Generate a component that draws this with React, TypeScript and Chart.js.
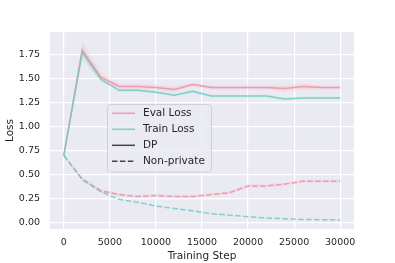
import React, { useEffect, useRef } from "react";
import { Chart, registerables } from "chart.js";

Chart.register(...registerables);

const steps = [0, 2000, 4000, 6000, 8000, 10000, 12000, 14000, 16000, 18000, 20000, 22000, 24000, 26000, 28000, 30000];
const evalDP = [0.70, 1.80, 1.52, 1.42, 1.42, 1.41, 1.39, 1.44, 1.41, 1.41, 1.41, 1.41, 1.40, 1.42, 1.41, 1.41];
const trainDP = [0.70, 1.78, 1.50, 1.38, 1.38, 1.36, 1.33, 1.37, 1.32, 1.32, 1.32, 1.32, 1.29, 1.30, 1.30, 1.30];
const evalNP = [0.70, 0.45, 0.33, 0.29, 0.27, 0.28, 0.27, 0.27, 0.29, 0.31, 0.38, 0.38, 0.40, 0.43, 0.43, 0.43];
const trainNP = [0.70, 0.45, 0.32, 0.24, 0.21, 0.17, 0.145, 0.12, 0.09, 0.075, 0.058, 0.045, 0.037, 0.03, 0.027, 0.025];
const evalDPStd = [0.01, 0.09, 0.05, 0.03, 0.03, 0.03, 0.03, 0.02, 0.02, 0.02, 0.02, 0.02, 0.03, 0.03, 0.02, 0.02];
const trainDPStd = [0.01, 0.06, 0.02, 0.015, 0.015, 0.015, 0.015, 0.015, 0.015, 0.015, 0.015, 0.015, 0.015, 0.015, 0.015, 0.015];
const evalNPStd = [0.01, 0.02, 0.02, 0.015, 0.015, 0.015, 0.015, 0.015, 0.015, 0.015, 0.015, 0.015, 0.015, 0.015, 0.015, 0.015];
const xTicks = [0, 5000, 10000, 15000, 20000, 25000, 30000];
const yTicks = [0, 0.25, 0.5, 0.75, 1.0, 1.25, 1.5, 1.75];
const legendLabels = ["Eval Loss", "Train Loss", "DP", "Non-private"];

const PINK = "rgba(244,140,162,0.85)";
const TEAL = "rgba(112,204,190,0.85)";
const PINK_FILL = "rgba(244,140,162,0.15)";
const TEAL_FILL = "rgba(112,204,190,0.12)";
const FONT = "'DejaVu Sans', sans-serif";
const TEXT = "#262626";
const DASH = [5.5, 2.4];

function pts(vals: number[], off: number[] = [], sign = 0) {
  return steps.map((s, i) => ({ x: s, y: vals[i] + sign * (off[i] || 0) }));
}

export default function App() {
  const ref = useRef<HTMLCanvasElement | null>(null);
  useEffect(() => {
    if (!ref.current) return;
    const bg = {
      id: "bg",
      beforeDraw(chart: any) {
        const { ctx, chartArea: a } = chart;
        ctx.save();
        ctx.fillStyle = "#eaeaf2";
        ctx.fillRect(a.left, a.top, a.right - a.left, a.bottom - a.top);
        ctx.restore();
      },
    };
    const legend = {
      id: "customLegend",
      afterDraw(chart: any) {
        const ctx = chart.ctx;
        ctx.save();
        ctx.beginPath();
        (ctx as any).roundRect(107.5, 104.5, 104, 67.5, 3);
        ctx.fillStyle = "rgba(234,234,242,0.8)";
        ctx.fill();
        ctx.strokeStyle = "#d0d0d8";
        ctx.lineWidth = 1;
        ctx.stroke();
        const colors = [PINK, TEAL, "#444444", "#444444"];
        const dashes = [[], [], [], DASH];
        ctx.font = `10.5px ${FONT}`;
        ctx.textBaseline = "middle";
        legendLabels.forEach((lab, i) => {
          const y = 113.3 + i * 16;
          ctx.beginPath();
          ctx.setLineDash(dashes[i]);
          ctx.strokeStyle = colors[i];
          ctx.lineWidth = 1.5;
          ctx.moveTo(112, y);
          ctx.lineTo(135, y);
          ctx.stroke();
          ctx.setLineDash([]);
          ctx.fillStyle = TEXT;
          ctx.fillText(lab, 143, y);
        });
        ctx.restore();
      },
    };
    const band = (vals: number[], std: number[], color: string) => [
      { data: pts(vals, std, 1), borderWidth: 0, pointRadius: 0, fill: false, order: 10, borderColor: "transparent" },
      { data: pts(vals, std, -1), borderWidth: 0, pointRadius: 0, fill: "-1", backgroundColor: color, order: 10, borderColor: "transparent" },
    ];
    const line = (vals: number[], color: string, dash: number[]) => ({
      data: pts(vals),
      borderColor: color,
      borderWidth: 1.5,
      borderDash: dash,
      pointRadius: 0,
      fill: false,
      order: 1,
    });
    const chart = new Chart(ref.current, {
      type: "line",
      data: {
        datasets: [
          ...band(evalDP, evalDPStd, PINK_FILL),
          ...band(trainDP, trainDPStd, TEAL_FILL),
          ...band(evalNP, evalNPStd, PINK_FILL),
          line(trainNP, TEAL, DASH),
          line(evalNP, PINK, DASH),
          line(trainDP, TEAL, []),
          line(evalDP, PINK, []),
        ] as any,
      },
      options: {
        animation: false,
        responsive: false,
        devicePixelRatio: 1,
        layout: { padding: { left: 0, right: 41, top: 32, bottom: 0 } },
        plugins: { legend: { display: false }, tooltip: { enabled: false } },
        scales: {
          x: {
            type: "linear",
            min: -1500,
            max: 31500,
            afterBuildTicks: (s: any) => { s.ticks = xTicks.map((v) => ({ value: v })); },
            afterFit: (s: any) => { s.height = 34; },
            grid: { color: "#ffffff", lineWidth: 1.2, drawTicks: false },
            border: { display: false },
            ticks: { color: TEXT, font: { family: FONT, size: 9.5 }, padding: 8, callback: (v: any) => String(v), maxRotation: 0 },
            title: { display: true, text: "Training Step", color: TEXT, font: { family: FONT, size: 10.5 }, padding: { top: 0, bottom: 0 } },
          },
          y: {
            type: "linear",
            min: -0.07,
            max: 1.99,
            afterBuildTicks: (s: any) => { s.ticks = yTicks.map((v) => ({ value: v })); },
            afterFit: (s: any) => { s.width = 50; },
            grid: { color: "#ffffff", lineWidth: 1.2, drawTicks: false },
            border: { display: false },
            ticks: { color: TEXT, font: { family: FONT, size: 9.5 }, padding: 10, callback: (v: any) => Number(v).toFixed(2) },
            title: { display: true, text: "Loss", color: TEXT, font: { family: FONT, size: 10.5 }, padding: { top: 4, bottom: 0 } },
          },
        },
      },
      plugins: [bg, legend],
    });
    return () => chart.destroy();
  }, []);
  return (
    <div style={{ position: "absolute", left: 0, top: 0, width: 395, height: 263, background: "#ffffff" }}>
      <canvas ref={ref} width={395} height={263} style={{ width: 395, height: 263, display: "block" }} />
    </div>
  );
}
